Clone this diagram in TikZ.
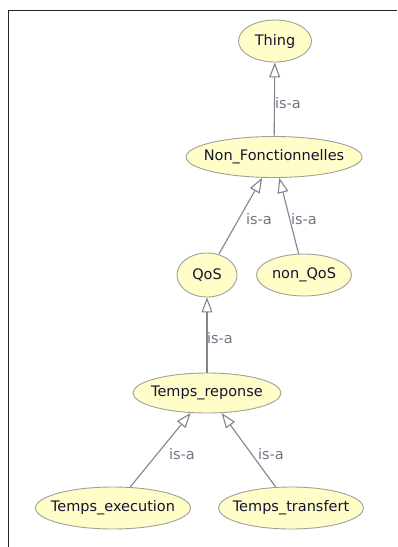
\documentclass[tikz,border=0pt]{standalone}
\usepackage{fontspec}
\setmainfont{DejaVu Sans}
\usetikzlibrary{arrows.meta,shapes.geometric}
\definecolor{nodefill}{HTML}{FFFDC8}
\definecolor{nodeborder}{HTML}{A0A098}
\definecolor{edgecol}{HTML}{858585}
\definecolor{labelcol}{HTML}{747486}
\definecolor{textcol}{HTML}{141430}
\newcommand\zerowd[1]{\makebox[0pt]{#1}}
\tikzset{
  cls/.style={ellipse, draw=nodeborder, fill=nodefill, line width=0.9pt, inner sep=0pt,
    text=textcol, font=\fontsize{14.5}{16}\selectfont},
  isa/.style={draw=edgecol, line width=1.1pt,
    -{Triangle[open, length=15pt, width=11pt, fill=white]}},
  lbl/.style={text=labelcol, font=\fontsize{14.5}{16}\selectfont, inner sep=0pt},
}
\begin{document}
\begin{tikzpicture}[x=1pt, y=-1pt]
\useasboundingbox (0,0) rectangle (397,547);
\fill[white] (0,0) rectangle (397,547);
\draw[black!85, line width=1pt] (8.5,547) -- (8.5,10.5) -- (397,10.5);

\node[cls, minimum width=73pt, minimum height=42pt] (thing) at (275,41) {\zerowd{Thing}};
\node[cls, minimum width=176pt, minimum height=41pt] (nf) at (274,157) {\zerowd{Non\_Fonctionnelles}};
\node[cls, minimum width=60pt, minimum height=44pt] (qos) at (207,275) {\zerowd{QoS}};
\node[cls, minimum width=95pt, minimum height=42pt] (nqos) at (304,275) {\zerowd{non\_QoS}};
\node[cls, minimum width=148pt, minimum height=40pt] (tr) at (207,393) {\zerowd{Temps\_reponse}};
\node[cls, minimum width=155pt, minimum height=42pt] (te) at (113,508) {\zerowd{Temps\_execution}};
\node[cls, minimum width=145pt, minimum height=42pt] (tt) at (291,508) {\zerowd{Temps\_transfert}};

\draw[isa] (nf) -- (thing);
\draw[isa] (qos) -- (nf);
\draw[isa] (nqos) -- (nf);
\draw[isa] (tr) -- (qos);
\draw[isa] (te) -- (tr);
\draw[isa] (tt) -- (tr);

\node[lbl] (l1) at (288,103) {is-a};
\node[lbl] (l2) at (259,219) {is-a};
\node[lbl] (l3) at (304,219) {is-a};
\node[lbl] (l4) at (220,338) {is-a};
\node[lbl] (l5) at (182,454) {is-a};
\node[lbl] (l6) at (271,454) {is-a};
\end{tikzpicture}
\end{document}
